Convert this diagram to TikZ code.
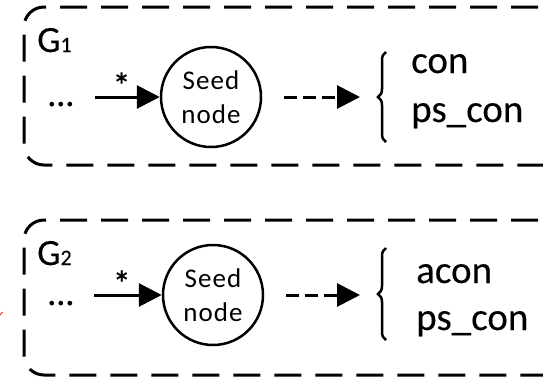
\documentclass[tikz,border=0pt]{standalone}
\usepackage{fontspec}
\setmainfont{Carlito}
\usetikzlibrary{arrows.meta,decorations.pathreplacing}

\tikzset{
  groupframe/.style={line width=3pt, dash pattern=on 27pt off 14pt, dash phase=20pt, rounded corners=20pt},
  seednode/.style={circle, draw, line width=2.5pt, minimum size=100pt, inner sep=0pt,
    align=center, font=\fontsize{27}{34}\selectfont\addfontfeatures{LetterSpace=4}},
  flow/.style={line width=3pt, -{Triangle[length=23pt,width=23pt]}},
  hint/.style={flow, dash pattern=on 13pt off 6pt},
  outtext/.style={anchor=base west, inner sep=0pt, font=\fontsize{39}{47}\selectfont\addfontfeatures{FakeBold=0.2}},
  grouptitle/.style={anchor=base west, inner sep=0pt, font=\fontsize{37}{40}\selectfont\addfontfeatures{FakeBold=0.2}},
  ellipsis/.style={anchor=base west, inner sep=0pt, font=\fontsize{36}{40}\selectfont\addfontfeatures{FakeBold=0.3}},
  startag/.style={inner sep=0pt, anchor=base, font=\fontsize{36}{38}\selectfont\addfontfeatures{FakeBold=0.8}},
  bracemark/.style={line width=2.5pt, decorate, decoration={brace, amplitude=8pt}},
}

\begin{document}
\begin{tikzpicture}[x=1pt, y=-1pt]
\useasboundingbox (0,0) rectangle (543,378);
\clip (0,0) rectangle (543,378);

% ---------- group G1 ----------
\draw[groupframe] (600,7) -- (24,7) -- (24,165) -- (600,165);
\node[grouptitle] (g1) at (37,52) {G\fontsize{22}{24}\selectfont 1};
\node[ellipsis] (dots1) at (47,106) {...};
\coordinate (in1) at (95,97);
\node[seednode] (seed1) at (211,97) {Seed\\node};
\draw[flow] (in1) -- node[startag, pos=0.41, yshift=-1pt] (star1) {*} (seed1);
\coordinate (tip1) at (360,97);
\draw[hint, shorten <=22pt] (seed1) -- (tip1);
\draw[bracemark] (386,142) -- (386,52);
\node[outtext] (con1) at (411,73) {con};
\node[outtext] (pscon1) at (411,122) {ps\_con};

% ---------- group G2 ----------
\draw[groupframe] (600,220) -- (24,220) -- (24,375) -- (600,375);
\node[grouptitle] (g2) at (37,265) {G\fontsize{22}{24}\selectfont 2};
\node[ellipsis] (dots2) at (47,305) {...};
\coordinate (in2) at (94,295);
\node[seednode] (seed2) at (213,295) {Seed\\node};
\draw[flow] (in2) -- node[startag, pos=0.41, yshift=-1pt] (star2) {*} (seed2);
\coordinate (tip2) at (360,295);
\draw[hint, shorten <=22pt] (seed2) -- (tip2);
\draw[bracemark] (386,340) -- (386,248);
\node[outtext] (con2) at (416,283) {acon};
\node[outtext] (pscon2) at (416,330) {ps\_con};

% small red stroke at the left border
\draw[red, line width=0.8pt] (0,315) -- (2.5,312);
\end{tikzpicture}
\end{document}
